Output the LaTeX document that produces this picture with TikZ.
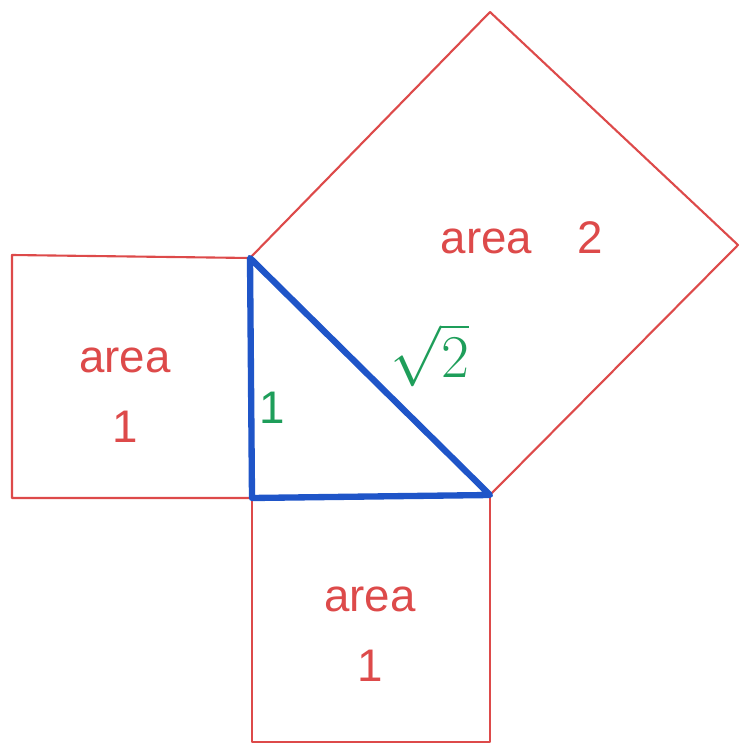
\documentclass[tikz,border=0pt]{standalone}
\usepackage{fontspec}
\setmainfont{Liberation Sans}
\usepackage{tikz}
\usetikzlibrary{positioning,calc}
\definecolor{pred}{HTML}{DD4A4A}
\definecolor{pblue}{HTML}{1F55C8}
\definecolor{pgreen}{HTML}{1E9E5A}

\begin{document}
\begin{tikzpicture}[
  sq/.style={draw=pred, line width=0.6pt, line join=round},
  tri/.style={draw=pblue, line width=1.8pt, line join=round, line cap=round},
  lbl/.style={text=pred, font=\fontsize{13}{20}\selectfont, align=center},
  side/.style={text=pgreen, font=\fontsize{13}{16}\selectfont}
]
\useasboundingbox (0,0) rectangle (7.41,7.47);

% triangle corners
\coordinate (top) at (2.50,4.89);
\coordinate (ra) at (2.52,2.49);
\coordinate (rt) at (4.90,2.52);

% outer corners of the squares
\coordinate (l1) at (0.12,4.92);
\coordinate (l2) at (0.12,2.49);
\coordinate (b1) at (2.52,0.05);
\coordinate (b2) at (4.90,0.05);
\coordinate (h1) at (4.90,7.35);
\coordinate (h2) at (7.38,5.02);

\draw[sq] (top) -- (l1) -- (l2) -- (ra);
\draw[sq] (ra) -- (b1) -- (b2) -- (rt);
\draw[sq] (top) -- (h1) -- (h2) -- (rt);

\draw[tri] (top) -- (ra) -- (rt) -- cycle;

\node[lbl] (aleft) at (1.25,3.52) {area\\1};
\node[lbl] (abot) at (3.70,1.13) {area\\1};
\node[lbl] (ahyp) at (5.22,5.09) {area\quad 2};

\node[side] (leg) at (2.72,3.39) {1};
\node[side, font=\fontsize{17}{20}\selectfont] (hyp) at (4.30,3.92) {$\sqrt{2}$};
\end{tikzpicture}
\end{document}
